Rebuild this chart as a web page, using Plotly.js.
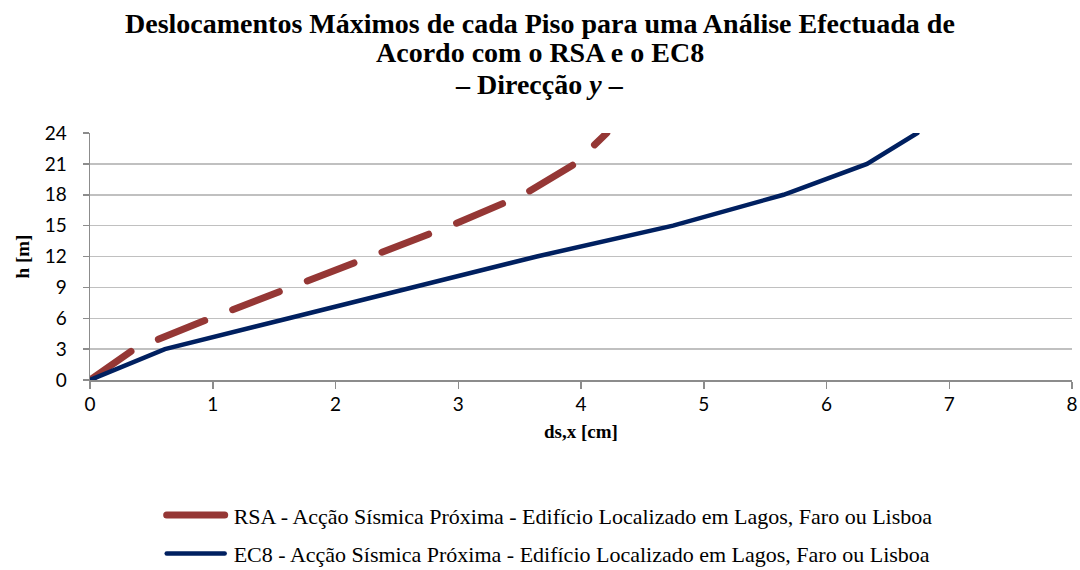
<!DOCTYPE html>
<html>
<head>
<meta charset="utf-8">
<script src="https://cdn.plot.ly/plotly-3.0.1.min.js"></script>
<style>html,body{margin:0;padding:0;background:#fff}#chart{width:1080px;height:570px}</style>
</head>
<body>
<div id="chart"></div>
<script>
// Storey heights [m]
const heights = [0, 3, 6, 9, 12, 15, 18, 21, 24];
// Max displacement ds,x [cm] – RSA
const rsaDisp = [0, 0.36, 0.98, 1.63, 2.28, 2.94, 3.53, 3.95, 4.21];
// Max displacement ds,x [cm] – EC8
const ec8Disp = [0, 0.61, 1.62, 2.63, 3.64, 4.75, 5.65, 6.33, 6.74];
const seriesNames = [
  "RSA - Acção Sísmica Próxima - Edifício Localizado em Lagos, Faro ou Lisboa",
  "EC8 - Acção Sísmica Próxima - Edifício Localizado em Lagos, Faro ou Lisboa"
];
const titleLines = [
  "Deslocamentos Máximos de cada Piso para uma Análise Efectuada de",
  "Acordo com o RSA e o EC8",
  "– Direcção <i>y</i> –"
];
const yTicks = [0, 3, 6, 9, 12, 15, 18, 21, 24];
const xTicks = [0, 1, 2, 3, 4, 5, 6, 7, 8];

const serif = "Liberation Serif";
const sans = "Lato";

const traces = [
  {x: rsaDisp, y: heights, type: "scatter", mode: "lines", name: seriesNames[0],
   legendgroup: "a", line: {color: "#953735", width: 7, dash: "50px,30px"}},
  {x: ec8Disp, y: heights, type: "scatter", mode: "lines", name: seriesNames[1],
   legendgroup: "b", line: {color: "#002060", width: 4.5}}
];

// title line vertical centres (paper coords relative to plot area)
const titleY = [1.445, 1.324, 1.196];
const annotations = titleLines.map(function (t, i) {
  return {text: "<b>" + t + "</b>", xref: "paper", yref: "paper",
          x: 0.4582, y: titleY[i], xanchor: "center", yanchor: "middle",
          showarrow: false, font: {family: serif, size: 28, color: "#000"}};
});

const layout = {
  width: 1080, height: 570,
  font: {family: serif, color: "#000"},
  margin: {l: 90, r: 8, t: 133, b: 190, autoexpand: false},
  paper_bgcolor: "#fff", plot_bgcolor: "#fff",
  annotations: annotations,
  xaxis: {
    range: [0, 8], tickvals: xTicks, ticktext: xTicks.map(String),
    showgrid: false, zeroline: false,
    showline: true, linecolor: "#8c8c8c", linewidth: 1.5,
    ticks: "outside", ticklen: 7, tickcolor: "#8c8c8c", tickwidth: 1.5,
    tickfont: {family: sans, size: 19, color: "#000"},
    title: {text: "<b>ds,x [cm]</b>", font: {family: serif, size: 19, color: "#000"}, standoff: 10}
  },
  yaxis: {
    range: [0, 24], tickvals: yTicks, ticktext: yTicks.map(String),
    showgrid: true, gridcolor: "#c0c0c0", gridwidth: 1.5, zeroline: false,
    showline: true, linecolor: "#8c8c8c", linewidth: 1.5,
    ticks: "outside", ticklen: 6, tickcolor: "#8c8c8c", tickwidth: 1.5,
    ticklabelstandoff: 12,
    tickfont: {family: sans, size: 19, color: "#000"},
    title: {text: "<b>h [m]</b>", font: {family: serif, size: 19, color: "#000"}, standoff: 10}
  },
  showlegend: true,
  legend: {
    orientation: "v", x: 0.073, xanchor: "left", y: -0.462, yanchor: "top",
    font: {family: serif, size: 22, color: "#000"},
    tracegroupgap: 7, itemwidth: 62, bgcolor: "rgba(0,0,0,0)"
  }
};

Plotly.newPlot("chart", traces, layout, {displayModeBar: false, staticPlot: true}).then(function () {
  document.querySelectorAll(".scatterlayer .js-line").forEach(function (p) {
    p.style.strokeLinecap = "round";
  });
  document.querySelectorAll(".legend .js-line").forEach(function (p) {
    p.setAttribute("d", "M5,0h58");
    p.style.strokeDasharray = "none";
    p.style.strokeLinecap = "round";
  });
});
</script>
</body>
</html>
